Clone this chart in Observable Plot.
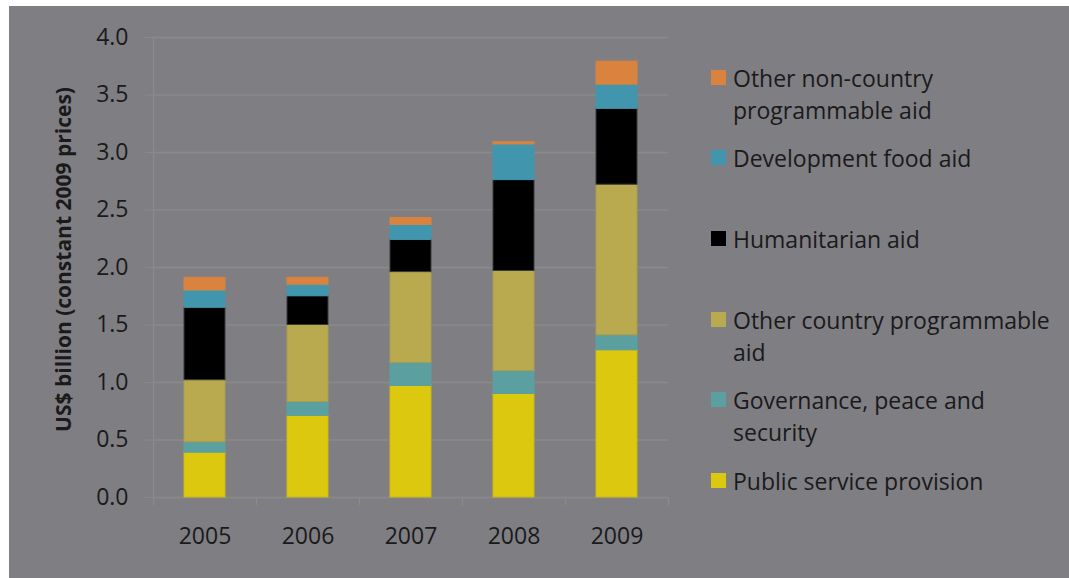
<!DOCTYPE html>
<html>
<head>
<meta charset="utf-8">
<script src="https://cdn.jsdelivr.net/npm/d3@7"></script>
<script src="https://cdn.jsdelivr.net/npm/@observablehq/plot@0.6"></script>
<style>
  html, body { margin: 0; padding: 0; background: #ffffff; }
  body { width: 1069px; height: 578px; position: relative; overflow: hidden; font-family: "Open Sans", sans-serif; }
  #panel { position: absolute; left: 9px; top: 6px; width: 1060px; height: 572px; background: #7f7e83; }
  #chart { position: absolute; left: 0; top: 0; }
  .lg { position: absolute; left: 702px; width: 356px; font-size: 23px; line-height: 32px; color: #1a1a1a; }
  .lg .sw { position: absolute; left: 0; top: 8px; width: 15px; height: 15px; }
  .lg .tx { position: absolute; left: 22px; width: 332px; }
</style>
</head>
<body>
<div id="panel">
  <div id="chart"></div>
  <div id="legend"></div>
</div>
<script>
// ---- data ----
const years = ["2005", "2006", "2007", "2008", "2009"];
const seriesNames = [
  "Public service provision",
  "Governance, peace and security",
  "Other country programmable aid",
  "Humanitarian aid",
  "Development food aid",
  "Other non-country programmable aid"
];
const publicService = [0.39, 0.71, 0.97, 0.90, 1.28];
const governance    = [0.09, 0.12, 0.20, 0.20, 0.13];
const otherCPA      = [0.54, 0.67, 0.79, 0.87, 1.31];
const humanitarian  = [0.63, 0.25, 0.28, 0.79, 0.66];
const foodAid       = [0.15, 0.10, 0.13, 0.31, 0.21];
const otherNonCPA   = [0.11, 0.06, 0.06, 0.02, 0.20];
const seriesColors = ["#dcc90f", "#5b9fa1", "#b9a94f", "#000000", "#4196ae", "#d9833e"];
const seriesOutlines = ["#cdb90f", "#5b9fa1", "#aa9c4a", "#3a3a3a", "#4196ae", "#d9833e"];
const yTicks = [0, 0.5, 1.0, 1.5, 2.0, 2.5, 3.0, 3.5, 4.0];
const yTitle = "US$ billion (constant 2009 prices)";

// ---- build table ----
const seriesValues = [publicService, governance, otherCPA, humanitarian, foodAid, otherNonCPA];
const rows = [];
seriesNames.forEach((s, i) => {
  years.forEach((y, j) => rows.push({year: y, series: s, value: seriesValues[i][j], outline: seriesOutlines[i]}));
});

const gridColor = "#8a8b88";
const textColor = "#1a1a1a";
const width = 690, height = 560;
const mL = 144, mR = 31, mT = 31, mB = 69;
const step = (width - mL - mR) / years.length;

const chart = Plot.plot({
  width, height,
  marginLeft: mL, marginRight: mR, marginTop: mT, marginBottom: mB,
  style: { background: "transparent", color: textColor, fontFamily: "'Open Sans', sans-serif", fontSize: "23px" },
  x: { domain: years, paddingInner: 0.6, paddingOuter: 0.3, label: null },
  y: { domain: [0, 4], label: null },
  color: { domain: seriesNames, range: seriesColors },
  marks: [
    Plot.ruleY(yTicks, { y: d => d, stroke: gridColor, strokeWidth: 1.3 }),
    Plot.axisY({ ticks: yTicks, tickFormat: d3.format(".1f"), tickSize: 8, tickPadding: 17, stroke: gridColor, fill: textColor, label: null }),
    Plot.ruleX([years[0]], { x: d => d, dx: -step / 2, y1: 4, y2: 0, insetBottom: -8, stroke: gridColor, strokeWidth: 1.3 }),
    Plot.axisX({ tickSize: 8, dx: step / 2, stroke: gridColor, strokeWidth: 1.3, tickFormat: () => "", label: null }),
    Plot.axisX({ tickSize: 0, tickPadding: 30, fill: textColor, label: null }),
    Plot.barY(rows, Plot.stackY({ x: "year", y: "value", order: seriesNames, fill: "series", stroke: "outline", strokeWidth: 1 })),
    Plot.text([yTitle], { frameAnchor: "left", textAnchor: "middle", lineAnchor: "middle", rotate: -90, dx: -89, dy: -8,
      text: d => d, fontWeight: "bold", fontSize: 21, fill: textColor })
  ]
});
document.getElementById("chart").appendChild(chart);

// ---- legend (top to bottom, reverse of stack order) ----
const legendTops = { 5: 56, 4: 136, 3: 217, 2: 298, 1: 378, 0: 459 };
const legend = document.getElementById("legend");
for (let i = seriesNames.length - 1; i >= 0; i--) {
  const item = document.createElement("div");
  item.className = "lg";
  item.style.top = legendTops[i] + "px";
  const sw = document.createElement("div");
  sw.className = "sw";
  sw.style.background = seriesColors[i];
  const tx = document.createElement("div");
  tx.className = "tx";
  tx.textContent = seriesNames[i];
  item.appendChild(sw);
  item.appendChild(tx);
  legend.appendChild(item);
}
</script>
</body>
</html>
